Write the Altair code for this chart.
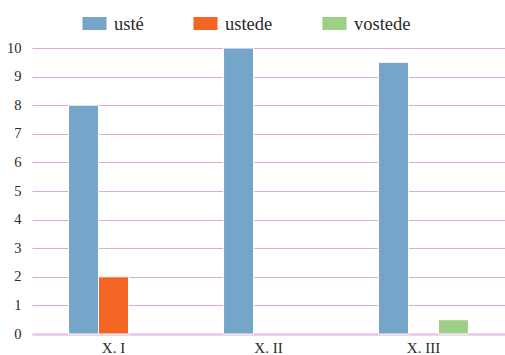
import altair as alt
import pandas as pd

# Counts per text and form
groups = ["X. I", "X. II", "X. III"]
forms = ["usté", "ustede", "vostede"]
uste = [8, 10, 9.5]
ustede = [2, 0, 0]
vostede = [0, 0, 0.5]
colors = ["#75a5c8", "#f46524", "#9dcf87"]

rows = []
for i, g in enumerate(groups):
    for f, vals in zip(forms, [uste, ustede, vostede]):
        if vals[i] > 0:
            rows.append({"grupo": g, "forma": f, "valor": vals[i]})
df = pd.DataFrame(rows)

FONT = "Liberation Serif"

bars = alt.Chart(df).mark_bar(stroke="white", strokeWidth=1).encode(
    x=alt.X("grupo:N", sort=groups, title=None,
            scale=alt.Scale(domain=groups, paddingInner=0.42, paddingOuter=0.236, align=0.5),
            axis=alt.Axis(labelAngle=0, ticks=False, domain=True,
                          domainColor="#e6c6e6", domainWidth=2.5,
                          labelFont=FONT, labelFontSize=15, labelColor="#2a2a2a",
                          labelPadding=6)),
    xOffset=alt.XOffset("forma:N", scale=alt.Scale(domain=forms)),
    y=alt.Y("valor:Q", title=None,
            scale=alt.Scale(domain=[0, 10], nice=False),
            axis=alt.Axis(values=list(range(0, 11)), domain=False, ticks=False,
                          grid=True, gridColor="#dcaadc", gridWidth=1.2,
                          labelFont=FONT, labelFontSize=14.5, labelColor="#2a2a2a",
                          labelPadding=11)),
    color=alt.Color("forma:N",
                    scale=alt.Scale(domain=forms, range=colors),
                    legend=alt.Legend(title=None, orient="none", direction="horizontal",
                                      legendX=50, legendY=-37,
                                      symbolType="M-1,-0.54H1V0.54H-1Z",
                                      symbolSize=580, symbolStrokeWidth=0,
                                      labelFont=FONT, labelFontSize=18.5,
                                      labelColor="#2a2a2a", labelOffset=7,
                                      columnPadding=49)),
)

chart = bars.properties(
    width=473, height=286,
    autosize=alt.AutoSizeParams(type="none"),
    padding={"left": 32, "top": 48, "right": 0, "bottom": 21},
).configure_view(stroke=None)

chart.save("out.html", embed_options={"renderer": "svg", "actions": False})
